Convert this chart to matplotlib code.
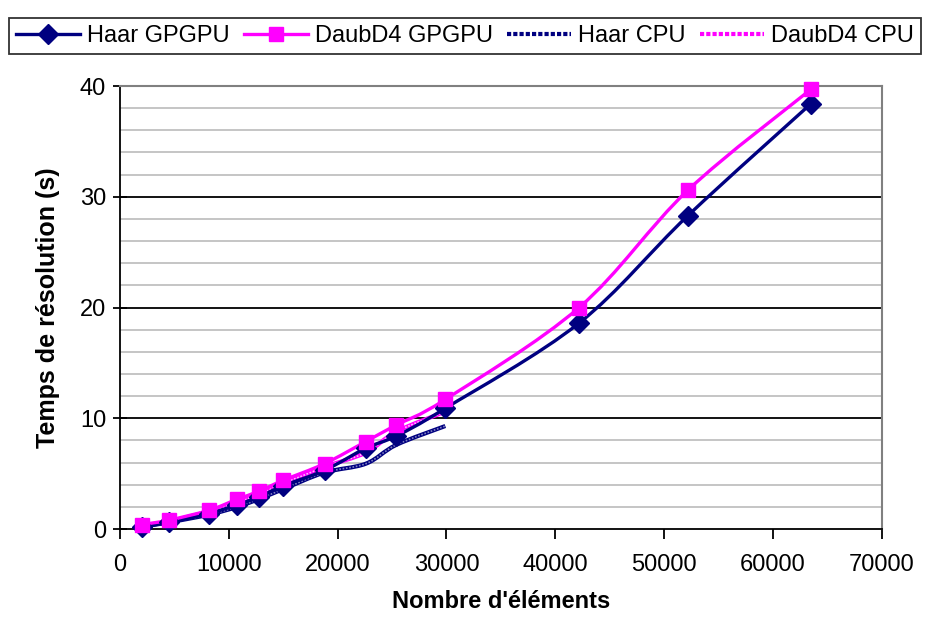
import numpy as np
import matplotlib
matplotlib.use("Agg")
import matplotlib.pyplot as plt
from matplotlib.path import Path
from matplotlib.patches import PathPatch
from matplotlib.lines import Line2D

plt.rcParams['font.family'] = ['Liberation Sans', 'DejaVu Sans']

### values
n_gpu = [2000, 4500, 8200, 10800, 12750, 15000, 18800, 22600, 25400, 29900, 42200, 52200, 63500]
haar_gpu = [0.2, 0.6, 1.4, 2.2, 2.9, 3.9, 5.3, 7.3, 8.4, 10.9, 18.6, 28.3, 38.4]
daub_gpu = [0.4, 0.8, 1.7, 2.7, 3.4, 4.4, 5.9, 7.9, 9.4, 11.7, 20.0, 30.6, 39.7]

n_cpu = [2000, 4500, 8200, 10800, 12750, 15000, 18800, 22600, 25400, 29900]
haar_cpu = [0.2, 0.6, 1.3, 2.0, 2.7, 3.6, 5.1, 5.9, 7.6, 9.3]
daub_cpu = [0.3, 0.7, 1.6, 2.4, 3.1, 4.1, 5.6, 6.9, 8.8, 10.6]

NAVY = "#000080"
PINK = "#FF00FF"


def smooth_path(ax, x, y, **kw):
    # excel-like smoothed line: catmull-rom segments drawn as cubic beziers
    # (done in pixel space so the curve shape does not depend on axis units)
    pts = ax.transData.transform(np.column_stack([x, y]))
    verts = [pts[0]]
    codes = [Path.MOVETO]
    t = 1.0 / 6.0
    for i in range(len(pts) - 1):
        p0 = pts[i - 1] if i > 0 else pts[i]
        p1 = pts[i]
        p2 = pts[i + 1]
        p3 = pts[i + 2] if i + 2 < len(pts) else pts[i + 1]
        c1 = p1 + (p2 - p0) * t
        c2 = p2 - (p3 - p1) * t
        verts += [c1, c2, p2]
        codes += [Path.CURVE4] * 3
    verts = ax.transData.inverted().transform(np.array(verts))
    patch = PathPatch(Path(verts, codes), fill=False, **kw)
    ax.add_patch(patch)
    return patch


fig = plt.figure(figsize=(9.3, 6.17), dpi=100)
ax = fig.add_axes([0.129, 0.1426, 0.819, 0.718])

ax.set_xlim(0, 70000)
ax.set_ylim(0, 40)
ax.set_xticks(range(0, 70001, 10000))
ax.set_yticks(range(0, 41, 10))
ax.set_yticks(range(0, 41, 2), minor=True)

# gridlines: gray minor, black major
for v in range(2, 40, 2):
    if v % 10:
        ax.axhline(v, color="#C0C0C0", lw=1.3, zorder=0)
for v in (10, 20, 30):
    ax.axhline(v, color="black", lw=1.3, zorder=0)

for side in ("top", "right"):
    ax.spines[side].set_color("#808080")
    ax.spines[side].set_linewidth(1.5)
for side in ("left", "bottom"):
    ax.spines[side].set_linewidth(1.3)

ax.tick_params(axis="y", which="major", direction="inout", length=10, width=1.3, labelsize=17, pad=5)
ax.tick_params(axis="y", which="minor", length=0)
ax.tick_params(axis="x", direction="out", length=7, width=1.3, labelsize=17, pad=11)

ax.set_xlabel("Nombre d'éléments", fontsize=17, fontweight="bold", labelpad=10)
ax.set_ylabel("Temps de résolution (s)", fontsize=18, fontweight="bold", labelpad=14)

fig.canvas.draw()

# CPU curves (textured look: colored line with a light dotted overlay)
smooth_path(ax, n_cpu, haar_cpu, edgecolor=NAVY, lw=3, zorder=3)
smooth_path(ax, n_cpu, haar_cpu, edgecolor="#8080C0", lw=1.2, linestyle=(0, (1, 1)), zorder=3)
smooth_path(ax, n_cpu, daub_cpu, edgecolor=PINK, lw=3, zorder=3)
smooth_path(ax, n_cpu, daub_cpu, edgecolor="#FFC0FF", lw=1.2, linestyle=(0, (1, 1)), zorder=3)

# GPU curves with markers
smooth_path(ax, n_gpu, haar_gpu, edgecolor=NAVY, lw=2.4, zorder=4)
ax.plot(n_gpu, haar_gpu, ls="none", marker="D", ms=10, color=NAVY, zorder=5, clip_on=False)
smooth_path(ax, n_gpu, daub_gpu, edgecolor=PINK, lw=2.4, zorder=4)
ax.plot(n_gpu, daub_gpu, ls="none", marker="s", ms=9.5, color=PINK, zorder=5, clip_on=False)

handles = [
    Line2D([], [], color=NAVY, lw=2.4, marker="D", ms=10),
    Line2D([], [], color=PINK, lw=2.4, marker="s", ms=9.5),
    Line2D([], [], color=NAVY, lw=3, linestyle=(0, (1, 0.5))),
    Line2D([], [], color=PINK, lw=3, linestyle=(0, (1, 0.5))),
]
labels = ["Haar GPGPU", "DaubD4 GPGPU", "Haar CPU", "DaubD4 CPU"]
leg = fig.legend(handles, labels, loc="upper center", bbox_to_anchor=(0.5, 0.99), ncol=4,
                 fontsize=17, frameon=True, fancybox=False, edgecolor="black",
                 handlelength=2.7, handletextpad=0.3, columnspacing=0.62, borderpad=0.3)
leg.get_frame().set_linewidth(1.3)

fig.savefig("out.png", dpi=100)
